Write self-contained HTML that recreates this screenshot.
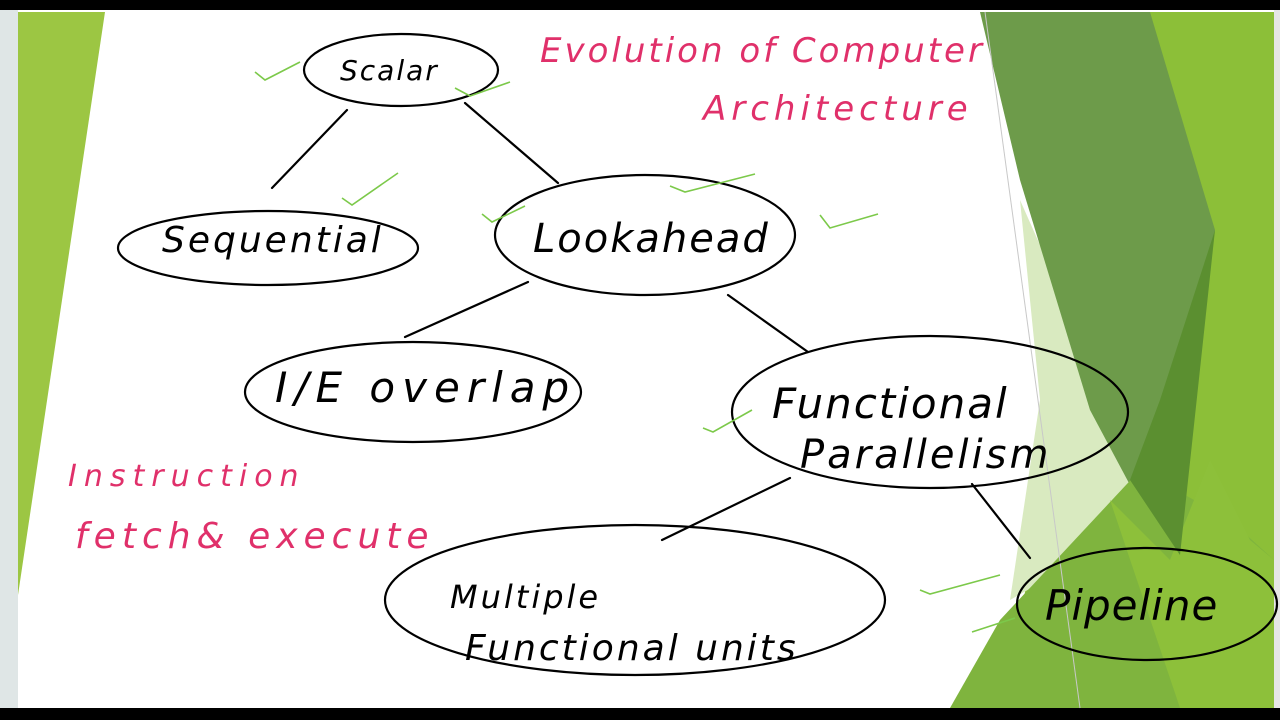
<!DOCTYPE html>
<html><head><meta charset="utf-8"><style>
html,body{margin:0;padding:0;background:#000;}
svg{display:block}
.h{font-family:"DejaVu Sans","Liberation Sans",sans-serif;font-style:italic;}
</style></head><body>
<svg width="1280" height="720" viewBox="0 0 1280 720" xmlns="http://www.w3.org/2000/svg">
<rect x="0" y="0" width="1280" height="720" fill="#000"/>
<rect x="0" y="10" width="1280" height="698" fill="#fff"/>
<rect x="0" y="10" width="18" height="698" fill="#dfe6e6"/>
<rect x="1274" y="10" width="6" height="698" fill="#e6e6e6"/>
<polygon points="18,12 105,12 18,595" fill="#9cc643"/>
<polygon points="1150,12 1274,12 1274,708 1000,708" fill="#8cbf38"/>
<polygon points="1020,200 1140,470 1080,560 1010,600 1040,400" fill="#d9eac0"/>
<polygon points="980,12 1150,12 1215,230 1170,560 1090,410 1020,180" fill="#6d9b4a"/>
<polygon points="1000,620 1140,470 1230,520 1274,560 1274,708 950,708" fill="#7fb43e"/>
<polygon points="1110,500 1170,560 1210,460 1250,540 1274,560 1274,708 1180,708" fill="#8dc03a"/>
<polygon points="1130,480 1180,555 1215,230 1160,400" fill="#5b8f30"/>
<line x1="985" y1="12" x2="1080" y2="708" stroke="#c8c8c8" stroke-width="1"/>
<g stroke="#000" stroke-width="2.2" fill="none" stroke-linecap="round">
<line x1="347" y1="110" x2="272" y2="188"/>
<line x1="465" y1="103" x2="558" y2="183"/>
<line x1="528" y1="282" x2="405" y2="337"/>
<line x1="728" y1="295" x2="808" y2="352"/>
<line x1="790" y1="478" x2="662" y2="540"/>
<line x1="972" y1="484" x2="1030" y2="558"/>
<ellipse cx="401" cy="70" rx="97" ry="36"/>
<ellipse cx="268" cy="248" rx="150" ry="37"/>
<ellipse cx="645" cy="235" rx="150" ry="60"/>
<ellipse cx="413" cy="392" rx="168" ry="50"/>
<ellipse cx="930" cy="412" rx="198" ry="76"/>
<ellipse cx="635" cy="600" rx="250" ry="75"/>
<ellipse cx="1147" cy="604" rx="130" ry="56"/>
</g>
<g stroke="#7cc94a" stroke-width="1.6" fill="none">
<path d="M255,72 L265,80 L300,62"/>
<path d="M455,88 L470,96 L510,82"/>
<path d="M342,198 L352,205 L398,173"/>
<path d="M482,214 L492,222 L525,206"/>
<path d="M670,186 L685,192 L755,174"/>
<path d="M820,215 L830,228 L878,214"/>
<path d="M703,428 L713,432 L752,410"/>
<path d="M920,590 L930,594 L1000,575"/>
<path d="M972,632 L1015,618"/>
</g>
<g class="h" fill="#000">
<text x="340" y="80" font-size="28" letter-spacing="2">Scalar</text>
<text x="162" y="252" font-size="36" letter-spacing="3">Sequential</text>
<text x="533" y="252" font-size="40" letter-spacing="2">Lookahead</text>
<text x="275" y="402" font-size="42" letter-spacing="7">I/E overlap</text>
<text x="772" y="418" font-size="42" letter-spacing="2">Functional</text>
<text x="800" y="468" font-size="40" letter-spacing="3">Parallelism</text>
<text x="450" y="608" font-size="32" letter-spacing="3">Multiple</text>
<text x="465" y="660" font-size="36" letter-spacing="3">Functional units</text>
<text x="1045" y="620" font-size="42" letter-spacing="1">Pipeline</text>
</g>
<g class="h" fill="#e0306a">
<text x="540" y="62" font-size="34" letter-spacing="3">Evolution of Computer</text>
<text x="703" y="120" font-size="34" letter-spacing="5">Architecture</text>
<text x="68" y="486" font-size="30" letter-spacing="7">Instruction</text>
<text x="75" y="548" font-size="36" letter-spacing="6">fetch&amp;  execute</text>
</g>
</svg>
</body></html>
